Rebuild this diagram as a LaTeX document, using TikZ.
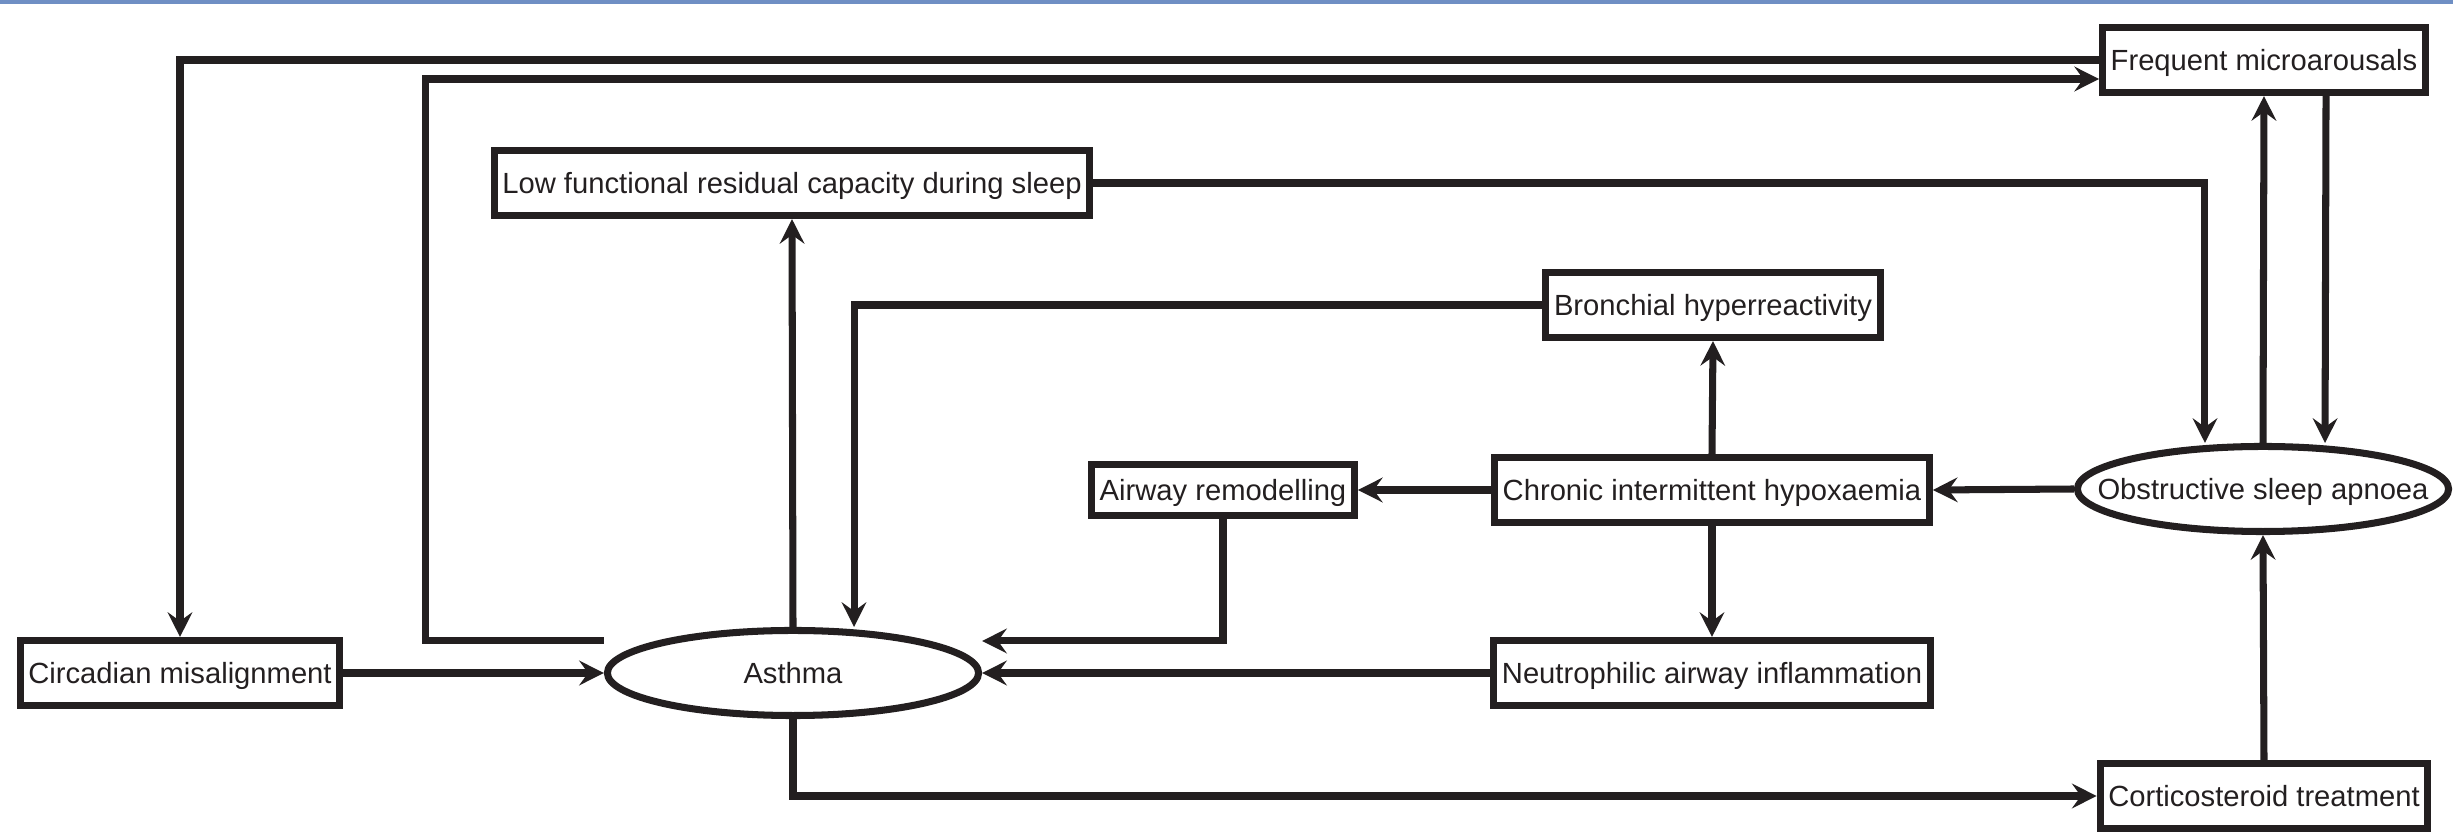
\documentclass[tikz,border=0pt]{standalone}
\usepackage{fontspec}
\setmainfont{Liberation Sans}
\usetikzlibrary{shapes.geometric,arrows.meta}
\definecolor{ink}{HTML}{231F20}
\definecolor{topbar}{HTML}{6F8FC4}
\tikzstyle{Block} = [draw=ink, rectangle, line width=2pt, minimum height=0.65cm, inner xsep=2.3pt, text depth=0pt, text=ink]
\tikzstyle{Oval} = [draw=ink, ellipse, line width=2pt, inner sep=0pt, minimum width=3.71cm, minimum height=0.85cm, text depth=0pt, text=ink]
\tikzstyle{Line} = [draw=ink, line width=2pt, -{Stealth[length=7pt,width=7pt,inset=2.5pt]}]

\begin{document}
\begin{tikzpicture}[x=0.01cm, y=-0.01cm, font=\fontsize{8.3}{10}\selectfont]
    \useasboundingbox (0,0) rectangle (2453,834);
    \fill[topbar] (0,0) rectangle (2453,4);

    \node[Block] (fma)       at (2264,60)  {Frequent microarousals};
    \node[Block] (lowfrc)    at (792,183)  {Low functional residual capacity during sleep};
    \node[Block] (bronch)    at (1713,305) {Bronchial hyperreactivity};
    \node[Block, minimum height=0.51cm] (airway) at (1223,490) {Airway remodelling};
    \node[Block] (chronic)   at (1712,490) {Chronic intermittent hypoxaemia};
    \node[Oval]  (osa)       at (2263,489) {\makebox[0pt]{Obstructive sleep apnoea}};
    \node[Block] (circadian) at (180,673)  {Circadian misalignment};
    \node[Oval]  (asthma)    at (793,673)  {\makebox[0pt]{Asthma}};
    \node[Block] (neutro)    at (1712,673) {Neutrophilic airway inflammation};
    \node[Block] (cortico)   at (2264,796) {Corticosteroid treatment};

    \draw[Line] (fma.west) -| (circadian.north);
    \draw[Line] ([yshift=0.32cm]asthma.west) -- ++(-178,0) |- ([yshift=-0.19cm]fma.west);
    \draw[Line] (asthma.north) to (lowfrc.south);
    \draw[Line] (lowfrc.east) -| ([xshift=-0.58cm]osa.north);
    \draw[Line] (osa.north) to (fma.south);
    \draw[Line] ([xshift=0.62cm]fma.south) to ([xshift=0.62cm]osa.north);
    \draw[Line] (bronch.west) -| ([xshift=0.61cm]asthma.north);
    \draw[Line] (chronic.north) to (bronch.south);
    \draw[Line] (chronic.west) to (airway.east);
    \draw[Line] (osa.west) to (chronic.east);
    \draw[Line] (chronic.south) to (neutro.north);
    \draw[Line] (airway.south) |- ([yshift=0.32cm]asthma.east);
    \draw[Line] (neutro.west) to (asthma.east);
    \draw[Line] (circadian.east) to (asthma.west);
    \draw[Line] (asthma.south) |- (cortico.west);
    \draw[Line] (cortico.north) to (osa.south);
\end{tikzpicture}
\end{document}
